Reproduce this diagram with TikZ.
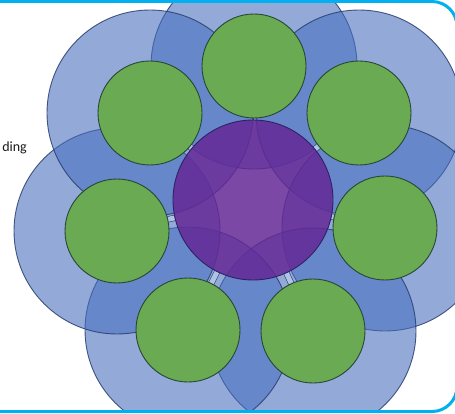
\documentclass[tikz,border=0pt]{standalone}
\usepackage{fontspec}
\setmainfont{Carlito}
\definecolor{bluefill}{RGB}{70,110,190}
\definecolor{blueedge}{RGB}{40,60,110}
\definecolor{greenfill}{RGB}{106,170,82}
\definecolor{greenedge}{RGB}{40,70,55}
\definecolor{purplefill}{RGB}{100,40,150}
\definecolor{purpleedge}{RGB}{45,35,100}
\definecolor{framecol}{RGB}{0,176,240}
\definecolor{conncol}{RGB}{175,195,230}
\tikzset{
  bluecirc/.style={circle, inner sep=0pt, minimum size=206pt, fill=bluefill, fill opacity=0.58, draw=blueedge, draw opacity=0.85, line width=0.9pt},
  greencirc/.style={circle, inner sep=0pt, minimum size=104pt, fill=greenfill, draw=greenedge, line width=0.9pt},
  purplecirc/.style={circle, inner sep=0pt, minimum size=160pt, fill=purplefill, fill opacity=0.85, draw=purpleedge, line width=0.9pt},
  connector/.style={draw=blueedge, line width=0.6pt, double=conncol, double distance=5pt},
  thinconn/.style={draw=blueedge, line width=1pt},
  framebox/.style={draw=framecol, line width=3pt, rounded corners=25pt},
  lbl/.style={font=\fontsize{14}{16}\selectfont, text=black!90, inner sep=0pt}
}
\begin{document}
\begin{tikzpicture}[x=1pt, y=-1pt]
\useasboundingbox (0,0) rectangle (455,414);
\fill[white] (0,0) rectangle (455,414);
\begin{scope}
\clip[rounded corners=25pt] (-40,1.5) rectangle (457,411.5);
% blue translucent circles
\node[bluecirc] (b1) at (254,66) {};
\node[bluecirc] (b2) at (359,113) {};
\node[bluecirc] (b3) at (385,228) {};
\node[bluecirc] (b4) at (313,331) {};
\node[bluecirc] (b5) at (188,330) {};
\node[bluecirc] (b6) at (117,231) {};
\node[bluecirc] (b7) at (150,113) {};
% central and outer nodes (shapes only, for connectors)
\path (253,200) node[circle, inner sep=0pt, minimum size=160pt] (p) {};
\path (254,66) node[circle, inner sep=0pt, minimum size=104pt] (g1) {};
\path (359,113) node[circle, inner sep=0pt, minimum size=104pt] (g2) {};
\path (385,228) node[circle, inner sep=0pt, minimum size=104pt] (g3) {};
\path (313,331) node[circle, inner sep=0pt, minimum size=104pt] (g4) {};
\path (188,330) node[circle, inner sep=0pt, minimum size=104pt] (g5) {};
\path (117,231) node[circle, inner sep=0pt, minimum size=104pt] (g6) {};
\path (150,113) node[circle, inner sep=0pt, minimum size=104pt] (g7) {};
% connectors
\draw[thinconn] (p) -- (g1);
\draw[connector] (p) -- (g2);
\draw[connector] (p) -- (g3);
\draw[connector] (p) -- (g4);
\draw[connector] (p) -- (g5);
\draw[connector] (p) -- (g6);
\draw[connector] (p) -- (g7);
% green circles
\node[greencirc] at (g1.center) {};
\node[greencirc] at (g2.center) {};
\node[greencirc] at (g3.center) {};
\node[greencirc] at (g4.center) {};
\node[greencirc] at (g5.center) {};
\node[greencirc] at (g6.center) {};
\node[greencirc] at (g7.center) {};
% purple centre
\node[purplecirc] at (p.center) {};
\end{scope}
\node[lbl, anchor=base east] (t) at (27,152) {ding};
\draw[framebox] (-40,1.5) rectangle (457,411.5);
\end{tikzpicture}
\end{document}
